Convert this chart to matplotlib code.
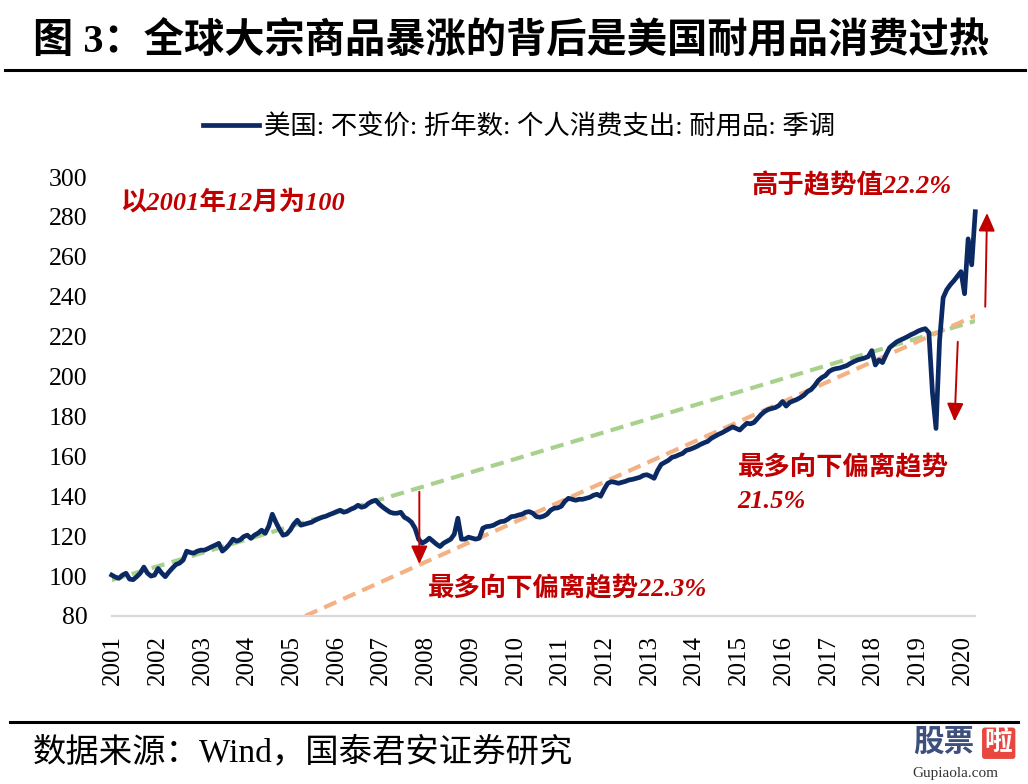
import numpy as np
import matplotlib
matplotlib.use("Agg")
import matplotlib.pyplot as plt
from matplotlib.lines import Line2D

plt.rcParams['font.family'] = ['Liberation Serif', 'Noto Sans CJK SC']
plt.rcParams['axes.unicode_minus'] = False

# ---------------- data ----------------
start_month = '2001-01'
# US real PCE: durable goods, SA (Dec 2001 = 100), monthly Jan 2001 - Mar 2021
pce_durables = [
    100.5, 99.5, 98.9, 100.5, 101.4, 98.5, 98.2, 99.7, 101.5, 104.5, 101.5, 100.0,   # 2001
    100.5, 103.8, 101.5, 99.7, 102.0, 104.0, 105.8, 106.5, 108.0, 112.5, 111.8, 111.5,  # 2002
    112.5, 113.0, 113.0, 113.8, 114.7, 115.5, 116.4, 112.5, 114.0, 116.0, 118.5, 117.5,  # 2003
    118.2, 119.8, 120.5, 118.9, 120.5, 121.5, 123.0, 121.4, 125.0, 131.0, 127.0, 123.5,  # 2004
    120.5, 121.0, 123.0, 126.0, 128.0, 125.5, 126.0, 126.5, 127.0, 128.0, 128.8, 129.5,  # 2005
    130.0, 130.8, 131.5, 132.3, 133.0, 132.0, 132.5, 133.5, 134.2, 135.5, 134.5, 135.0,  # 2006
    136.5, 137.5, 138.0, 136.0, 134.5, 133.2, 132.0, 131.5, 131.5, 132.0, 129.5, 128.5,  # 2007
    127.0, 124.0, 118.5, 116.5, 117.5, 119.0, 117.5, 116.0, 114.8, 116.5, 117.5, 118.5,  # 2008
    121.0, 129.0, 118.5, 118.5, 119.5, 119.0, 118.5, 119.0, 124.0, 124.8, 125.0, 125.5,  # 2009
    126.5, 127.3, 127.5, 128.5, 129.8, 130.0, 130.6, 131.0, 132.0, 132.3, 131.5, 129.8,  # 2010
    129.5, 130.0, 131.0, 133.0, 134.0, 134.2, 135.0, 137.5, 139.0, 138.5, 138.0, 138.5,  # 2011
    138.5, 139.0, 139.5, 140.5, 141.0, 140.0, 143.5, 146.5, 147.3, 147.0, 146.5, 147.0,  # 2012
    147.5, 148.2, 148.5, 149.0, 149.5, 150.5, 150.8, 150.0, 149.0, 153.0, 156.0, 157.0,  # 2013
    158.0, 159.5, 160.0, 160.8, 161.5, 163.0, 163.5, 164.2, 165.0, 166.0, 166.8, 167.5,  # 2014
    169.0, 170.0, 171.0, 171.8, 172.8, 173.8, 174.8, 174.0, 173.2, 175.0, 176.6, 176.3,  # 2015
    177.0, 179.0, 181.0, 182.5, 183.5, 184.0, 184.5, 185.5, 187.5, 185.2, 187.0, 187.8,  # 2016
    188.5, 189.5, 190.7, 192.5, 193.5, 195.5, 198.0, 199.5, 200.5, 202.5, 203.5, 204.0,  # 2017
    204.3, 204.9, 205.5, 206.6, 207.5, 208.3, 208.8, 209.3, 210.0, 213.0, 205.8, 208.3,  # 2018
    207.0, 211.0, 214.5, 216.0, 217.4, 218.3, 219.1, 220.0, 221.0, 221.8, 222.8, 223.5,  # 2019
    224.0, 222.0, 192.0, 174.0, 218.0, 239.5, 243.5, 246.0, 248.0, 250.3, 252.6, 241.5,  # 2020
    269.0, 256.0, 282.6,                                                                 # 2021
]

# trend lines (month index, value)
trend_pre_idx = [0, 243]
trend_pre_val = [98.0, 228.4]
trend_post_idx = [54.2, 243]
trend_post_val = [80.0, 231.3]

year_labels = [str(y) for y in range(2001, 2021)]
y_ticks = list(range(80, 301, 20))

series_name = '美国: 不变价: 折年数: 个人消费支出: 耐用品: 季调'
title = '图 3：全球大宗商品暴涨的背后是美国耐用品消费过热'
source = '数据来源：Wind，国泰君安证券研究'

# ---------------- styling ----------------
NAVY = '#0b2a63'
GREEN = '#a9d18e'
ORANGE = '#f4b183'
RED = '#c00000'
MIX = ['Liberation Serif', 'Noto Sans CJK SC']

fig = plt.figure(figsize=(10.28, 7.84), dpi=100)
ax = fig.add_axes([0.1087, 0.2143, 0.8400, 0.5599])

idx = np.arange(len(pce_durables))
ax.plot(trend_pre_idx, trend_pre_val, color=GREEN, lw=3.0, dashes=(3.2, 1.8), zorder=2)
ax.plot(trend_post_idx, trend_post_val, color=ORANGE, lw=3.0, dashes=(3.2, 1.8), zorder=2)
line, = ax.plot(idx, pce_durables, color=NAVY, lw=3.4, zorder=3, clip_on=False,
                solid_joinstyle='round')

ax.set_xlim(0, 242)
ax.set_ylim(80, 300)
ax.set_yticks(y_ticks)
ax.set_yticklabels([str(v) for v in y_ticks], fontsize=18.5)
label_step = 12.53
ax.set_xticks(np.arange(len(year_labels)) * label_step + 0.36)
ax.set_xticklabels(year_labels, rotation=90, fontsize=18)
ax.tick_params(axis='y', length=0, pad=17.5)
ax.tick_params(axis='x', length=0, pad=14)
for s in ['left', 'right', 'top']:
    ax.spines[s].set_visible(False)
ax.spines['bottom'].set_color('#d9d9d9')
ax.spines['bottom'].set_linewidth(1.6)

# arrows
arrow_kw = dict(arrowstyle='-|>,head_length=1.1,head_width=0.5', color=RED, lw=1.4,
                shrinkA=0, shrinkB=0)
ax.annotate('', xy=(86.2, 106.0), xytext=(86.2, 142.3), arrowprops=arrow_kw, annotation_clip=False)
ax.annotate('', xy=(236.2, 177.5), xytext=(237.1, 217.4), arrowprops=arrow_kw, annotation_clip=False)
ax.annotate('', xy=(245.3, 282.0), xytext=(244.8, 235.0), arrowprops=arrow_kw, annotation_clip=False)

# annotations
note_kw = dict(color=RED, fontsize=19, fontweight='bold', fontstyle='italic', family=MIX,
               va='center', ha='left')
fig.text(0.1167, 0.7423, '以2001年12月为100', **note_kw)
fig.text(0.7315, 0.764, '高于趋势值22.2%', **note_kw)
fig.text(0.718, 0.403, '最多向下偏离趋势', **note_kw)
fig.text(0.717, 0.360, '21.5%', **note_kw)
fig.text(0.4163, 0.2487, '最多向下偏离趋势22.3%', **note_kw)

# legend
fig.legend([line], [series_name], loc='center', bbox_to_anchor=(0.505, 0.838),
           frameon=False, handlelength=2.1, handletextpad=0.2,
           prop={'family': MIX, 'size': 19})

# title and rules
fig.text(0.032, 0.946, title, fontsize=29, fontweight='bold', family=MIX, va='center', ha='left')
fig.add_artist(Line2D([0.005, 0.997], [0.911, 0.911], lw=2.2, color='black'))
fig.add_artist(Line2D([0.010, 0.99], [0.079, 0.079], lw=2.2, color='black'))
fig.text(0.032, 0.040, source, fontsize=24, family=MIX, va='center', ha='left')

# watermark
fig.text(0.888, 0.052, '股票', fontsize=22, fontweight='bold', color='#3d4f7c',
         family=MIX, va='center', ha='left')
fig.text(0.958, 0.052, '啦', fontsize=20, fontweight='bold', color='white',
         family=MIX, va='center', ha='left',
         bbox=dict(boxstyle='round,pad=0.1', fc='#e8463e', ec='none'))
fig.text(0.888, 0.013, 'Gupiaola.com', fontsize=11, color='#333333',
         family=MIX, va='center', ha='left')

fig.savefig('out.png', dpi=100)
